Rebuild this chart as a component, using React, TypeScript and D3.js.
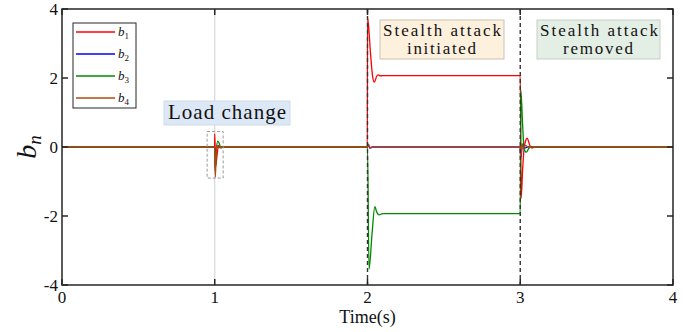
import React from "react";
import * as d3 from "d3";

const xTicks = [0, 1, 2, 3, 4];
const yTicks = [-4, -2, 0, 2, 4];
const seriesNames = ["1", "2", "3", "4"];
const seriesColors = ["#ff0000", "#0000ff", "#008a00", "#b5470f"];

const b1T = [0, 0.999, 1.0, 1.006, 1.016, 1.025, 1.035, 1.05, 1.999, 2.0, 2.005, 2.02, 2.035, 2.045, 2.06, 2.07, 2.085, 2.1, 2.999, 3.0, 3.006, 3.015, 3.025, 3.035, 3.045, 3.055, 3.065, 3.078, 3.09, 4];
const b1V = [0, 0, 0.38, -0.55, -0.2, 0.05, -0.02, 0, 0, 3.74, 3.6, 2.7, 2.0, 1.88, 2.05, 2.09, 2.06, 2.07, 2.07, 2.07, -1.48, -0.7, -0.05, 0.18, 0.26, 0.15, 0.02, -0.03, 0, 0];

const b2T = [0, 0.999, 1.003, 1.012, 1.025, 1.04, 1.999, 2.004, 2.015, 2.03, 2.999, 3.004, 3.015, 3.03, 3.05, 4];
const b2V = [0, 0, -0.6, 0.05, -0.02, 0, 0, 0.06, -0.03, 0, 0, -0.3, 0.08, -0.03, 0, 0];

const b3T = [0, 0.999, 1.003, 1.01, 1.02, 1.03, 1.04, 1.06, 1.999, 2.0, 2.01, 2.03, 2.048, 2.06, 2.075, 2.1, 2.999, 3.0, 3.004, 3.015, 3.025, 3.04, 3.055, 3.07, 3.09, 4];
const b3V = [0, 0, -0.7, -0.1, 0.17, 0.1, -0.03, 0, 0, 0, -3.54, -2.5, -1.73, -1.88, -1.97, -1.93, -1.93, -1.93, 1.65, 0.7, -0.05, -0.15, -0.05, 0.02, 0, 0];

const b4T = [0, 0.999, 1.004, 1.012, 1.02, 1.03, 1.999, 2.005, 2.02, 2.04, 2.999, 3.003, 3.01, 3.02, 3.035, 3.05, 4];
const b4V = [0, 0, -0.87, 0.05, -0.02, 0, 0, 0.08, -0.03, 0, 0, -0.35, 0.1, -0.05, 0.05, 0, 0];

const seriesT = [b1T, b2T, b3T, b4T];
const seriesV = [b1V, b2V, b3V, b4V];

const W = 694;
const H = 332;
const FONT = "'Liberation Serif', 'DejaVu Serif', serif";

export default function App() {
  const x = d3.scaleLinear().domain([0, 4]).range([62, 673]);
  const y = d3.scaleLinear().domain([-4, 4]).range([285, 9]);
  const line = d3
    .line<[number, number]>()
    .x((d) => x(d[0]))
    .y((d) => y(d[1]))
    .curve(d3.curveMonotoneX);

  const [x0, x1] = x.range();
  const [y0, y1] = y.range();
  const axisColor = "#262626";
  const tl = 6;

  const paths = seriesT.map((ts, i) =>
    line(ts.map((t, j) => [t, seriesV[i][j]] as [number, number]))
  );

  const ts = { fontFamily: FONT } as React.CSSProperties;

  return (
    <svg
      width={W}
      height={H}
      style={{ position: "absolute", left: 0, top: 0, background: "#fff", fontFamily: FONT }}
    >
      <rect x={0} y={0} width={W} height={H} fill="#fff" />
      <line x1={x(1)} x2={x(1)} y1={y1} y2={y0} stroke="#cfcfcf" strokeWidth={1} />

      {paths.map((p, i) => (
        <path key={i} d={p || ""} fill="none" stroke={seriesColors[i]} strokeWidth={1.3} />
      ))}

      {[2, 3].map((t) => (
        <line
          key={t}
          x1={x(t)}
          x2={x(t)}
          y1={y1}
          y2={y0}
          stroke="#333"
          strokeWidth={1.4}
          strokeDasharray="4,3"
        />
      ))}

      <rect
        x={x(0.95)}
        y={y(0.45)}
        width={x(1.055) - x(0.95)}
        height={y(-0.9) - y(0.45)}
        fill="none"
        stroke="#999"
        strokeWidth={1}
        strokeDasharray="3,2"
      />

      <rect x={x0} y={y1} width={x1 - x0} height={y0 - y1} fill="none" stroke={axisColor} strokeWidth={1.5} />
      {yTicks.map((v) => (
        <g key={"y" + v}>
          <line x1={x0} x2={x0 + tl} y1={y(v)} y2={y(v)} stroke={axisColor} strokeWidth={1.5} />
          <line x1={x1} x2={x1 - tl} y1={y(v)} y2={y(v)} stroke={axisColor} strokeWidth={1.5} />
          <text style={ts} x={x0 - 4} y={y(v) + 6} textAnchor="end" fontSize={17} fill="#111">
            {v}
          </text>
        </g>
      ))}
      {xTicks.map((v) => (
        <g key={"x" + v}>
          <line x1={x(v)} x2={x(v)} y1={y0} y2={y0 - tl} stroke={axisColor} strokeWidth={1.5} />
          <line x1={x(v)} x2={x(v)} y1={y1} y2={y1 + tl} stroke={axisColor} strokeWidth={1.5} />
          <text style={ts} x={x(v)} y={303} textAnchor="middle" fontSize={17} fill="#111">
            {v}
          </text>
        </g>
      ))}
      <text style={ts} x={(x0 + x1) / 2} y={323} textAnchor="middle" fontSize={18} fill="#111">
        Time(s)
      </text>
      <text
        style={ts}
        transform={`translate(36,${y(0)}) rotate(-90)`}
        textAnchor="middle"
        fontSize={28}
        fontStyle="italic"
        fill="#111"
      >
        b
        <tspan fontSize={19} dy={5}>
          n
        </tspan>
      </text>

      <rect x={73} y={23} width={63} height={85} fill="#fff" stroke={axisColor} strokeWidth={1} />
      {seriesNames.map((n, i) => {
        const ly = 32 + i * 22;
        return (
          <g key={"l" + n}>
            <line x1={76} x2={115} y1={ly} y2={ly} stroke={seriesColors[i]} strokeWidth={1.3} />
            <text style={ts} x={118} y={ly + 4} fontSize={13} fontStyle="italic" fill="#111">
              b
              <tspan fontSize={9} dy={3} fontStyle="normal">
                {n}
              </tspan>
            </text>
          </g>
        );
      })}

      <rect x={164} y={101} width={126} height={24} fill="#dde8f6" stroke="#cfdbea" strokeWidth={1} />
      <text style={ts} x={168} y={119} fontSize={21} fill="#111" textLength={118} lengthAdjust="spacing">
        Load change
      </text>

      <rect x={380} y={20} width={124} height={39} fill="#fdf0dd" stroke="#cbc3b4" strokeWidth={1} />
      <text style={ts} x={383} y={36} fontSize={17} fill="#111" textLength={118} lengthAdjust="spacing">
        Stealth attack
      </text>
      <text style={ts} x={407} y={54} fontSize={17} fill="#111" textLength={69} lengthAdjust="spacing">
        initiated
      </text>

      <rect x={537} y={20} width={123} height={39} fill="#e3eee5" stroke="#c6cfc8" strokeWidth={1} />
      <text style={ts} x={540} y={36} fontSize={17} fill="#111" textLength={118} lengthAdjust="spacing">
        Stealth attack
      </text>
      <text style={ts} x={563} y={54} fontSize={17} fill="#111" textLength={70} lengthAdjust="spacing">
        removed
      </text>
    </svg>
  );
}
